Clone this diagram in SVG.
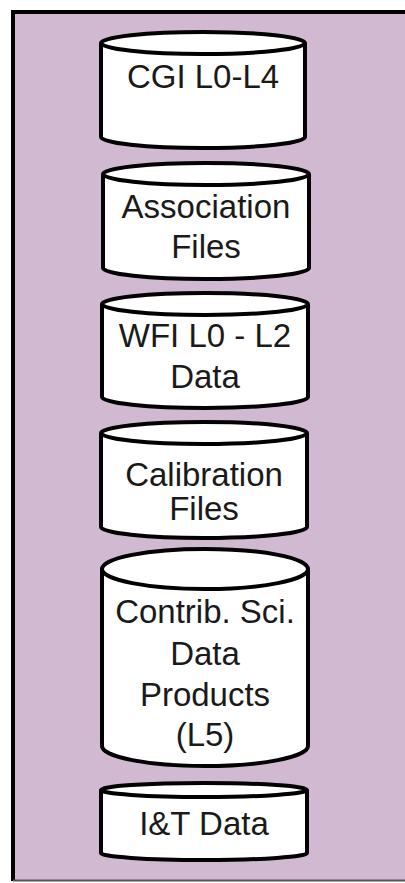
<svg xmlns="http://www.w3.org/2000/svg" width="405" height="883" viewBox="0 0 405 883">
<style>
.cyl{fill:#ffffff;stroke:#000000;stroke-width:4;stroke-linejoin:round}
.lbl{font-family:"Liberation Sans",Arial,sans-serif;font-size:33px;fill:#1a1a1a;text-anchor:middle}
</style>
<rect x="0" y="0" width="405" height="883" fill="#ffffff"/>
<rect x="13" y="12" width="392" height="869" fill="#d1b9d1"/>
<path d="M13,881 V12 H405" fill="none" stroke="#000000" stroke-width="4"/>
<line x1="13" y1="880.5" x2="405" y2="880.5" stroke="#555555" stroke-width="2"/>
<g id="cgi">
<path class="cyl" d="M101,43 A102,11 0 0 1 305,43 V137 A102,11 0 0 1 101,137 Z"/>
<path class="cyl" fill="none" d="M101,43 A102,11 0 0 0 305,43"/>
<text class="lbl" x="203" y="88">CGI L0-L4</text>
</g>
<g id="assoc">
<path class="cyl" d="M103,174 A103,11 0 0 1 309,174 V268 A103,11 0 0 1 103,268 Z"/>
<path class="cyl" d="M103,174 A103,11 0 0 0 309,174"/>
<text class="lbl" x="206" y="218">Association</text>
<text class="lbl" x="206" y="258">Files</text>
</g>
<g id="wfi">
<path class="cyl" d="M102,304 A103,11 0 0 1 308,304 V397 A103,11 0 0 1 102,397 Z"/>
<path class="cyl" d="M102,304 A103,11 0 0 0 308,304"/>
<text class="lbl" x="205" y="347">WFI L0 - L2</text>
<text class="lbl" x="205" y="388">Data</text>
</g>
<g id="calib">
<path class="cyl" d="M101,433 A103,11 0 0 1 307,433 V527 A103,11 0 0 1 101,527 Z"/>
<path class="cyl" d="M101,433 A103,11 0 0 0 307,433"/>
<text class="lbl" x="204" y="486">Calibration</text>
<text class="lbl" x="204" y="520">Files</text>
</g>
<g id="contrib">
<path class="cyl" d="M102,569 A103,20 0 0 1 308,569 V746 A103,20 0 0 1 102,746 Z"/>
<path class="cyl" d="M102,569 A103,20 0 0 0 308,569"/>
<text class="lbl" x="205" y="623">Contrib. Sci.</text>
<text class="lbl" x="205" y="665">Data</text>
<text class="lbl" x="205" y="706">Products</text>
<text class="lbl" x="205" y="746">(L5)</text>
</g>
<g id="it">
<path class="cyl" d="M101,790 A103,7 0 0 1 307,790 V853 A103,7 0 0 1 101,853 Z"/>
<path class="cyl" d="M101,790 A103,7 0 0 0 307,790"/>
<text class="lbl" x="204" y="835">I&amp;T Data</text>
</g>
<g id="connectors"/>
</svg>
